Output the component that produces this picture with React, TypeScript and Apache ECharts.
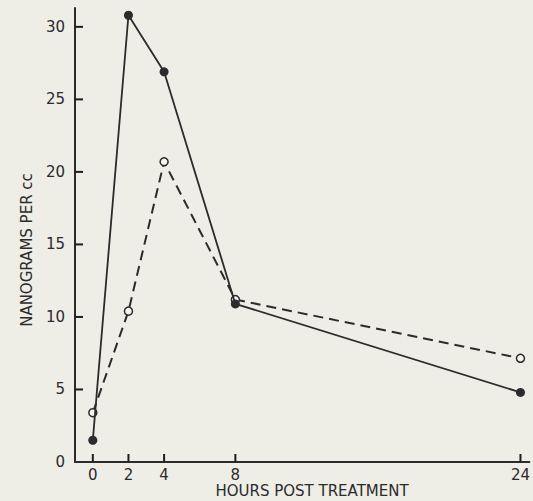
import React, { useEffect, useRef } from "react";
import * as echarts from "echarts";

const hours = [0, 2, 4, 8, 24];
const solidValues = [1.5, 30.8, 26.9, 10.9, 4.8];
const dashedValues = [3.4, 10.4, 20.7, 11.2, 7.15];
const xTickValues = [0, 2, 4, 8, 24];
const yTickValues = [0, 5, 10, 15, 20, 25, 30];
const xTitle = "HOURS POST TREATMENT";
const yTitle = "NANOGRAMS PER cc";

const INK = "#2b2b2b";
const FONT = "'DejaVu Sans', 'Liberation Sans', sans-serif";
const X_MIN = -1;

export default function App() {
  const ref = useRef<HTMLDivElement>(null);
  useEffect(() => {
    if (!ref.current) return;
    const chart = echarts.init(ref.current, undefined, { renderer: "svg" });
    chart.setOption({
      animation: false,
      backgroundColor: "#eeede6",
      grid: { left: 75, right: 0, top: 8, bottom: 39, containLabel: false },
      xAxis: {
        type: "value",
        min: X_MIN,
        max: 24.5,
        axisLine: { show: true, onZero: false, lineStyle: { color: INK, width: 2 } },
        axisTick: { show: false },
        axisLabel: { customValues: xTickValues, margin: 5, color: INK, fontSize: 15, fontFamily: FONT },
        splitLine: { show: false },
      },
      yAxis: {
        type: "value",
        min: 0,
        max: 31.3,
        interval: 5,
        axisLine: { show: true, onZero: false, lineStyle: { color: INK, width: 2 } },
        axisTick: { show: false },
        axisLabel: { customValues: yTickValues, margin: 10, color: INK, fontSize: 15, fontFamily: FONT },
        splitLine: { show: false },
      },
      graphic: [
        {
          type: "text",
          x: 312,
          y: 491,
          style: { text: xTitle, fill: INK, font: `15px ${FONT}`, textAlign: "center", textVerticalAlign: "middle" },
        },
        {
          type: "text",
          x: 27,
          y: 250,
          rotation: Math.PI / 2,
          style: { text: yTitle, fill: INK, font: `15px ${FONT}`, textAlign: "center", textVerticalAlign: "middle" },
        },
      ],
      series: [
        {
          type: "custom",
          silent: true,
          clip: false,
          z: 10,
          data: [
            ...xTickValues.map((v) => [v, 0, 0]),
            ...yTickValues.slice(1).map((v) => [X_MIN, v, 1]),
          ],
          renderItem: (params: any, api: any) => {
            const p = api.coord([api.value(0), api.value(1)]);
            const isY = api.value(2) === 1;
            return {
              type: "rect",
              shape: isY
                ? { x: p[0], y: p[1] - 1, width: 8, height: 2 }
                : { x: p[0] - 1, y: p[1] - 8, width: 2, height: 8 },
              style: { fill: "#1e1e1e" },
            };
          },
        },
        {
          type: "line",
          data: hours.map((h, i) => [h, dashedValues[i]]),
          lineStyle: { color: INK, width: 2, type: [10, 6] },
          symbol: "circle",
          symbolSize: 8,
          itemStyle: { color: "#f6f5ef", borderColor: INK, borderWidth: 1.5 },
          z: 2,
        },
        {
          type: "line",
          data: hours.map((h, i) => [h, solidValues[i]]),
          lineStyle: { color: INK, width: 1.8 },
          symbol: "circle",
          symbolSize: 9,
          itemStyle: { color: INK, borderColor: INK, borderWidth: 0 },
          z: 3,
        },
      ],
    });
    return () => chart.dispose();
  }, []);
  return <div ref={ref} style={{ position: "fixed", left: 0, top: 0, width: 533, height: 501 }} />;
}
